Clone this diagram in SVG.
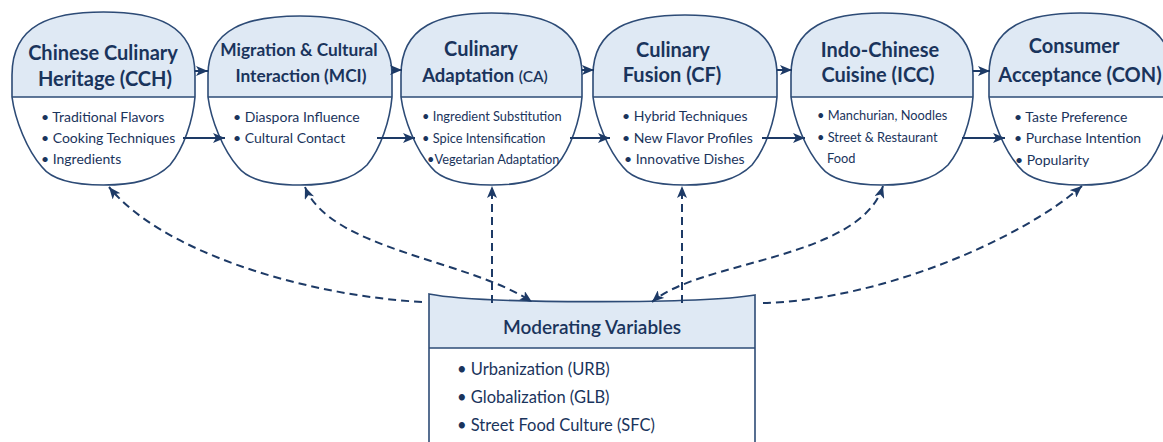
<svg xmlns="http://www.w3.org/2000/svg" width="1163" height="442" viewBox="0 0 1163 442">
  <style>
    .shape { fill: #ffffff; stroke: none; }
    .head { fill: #dfe9f4; stroke: none; }
    .outline { fill: none; stroke: #2d4b76; stroke-width: 1.6; }
    .divider { stroke: #2d4b76; stroke-width: 1.4; }
    .title { font-family: Lato, "Liberation Sans", sans-serif; font-weight: 700; font-size: 20px; fill: #1a345c; text-anchor: middle; }
    .item { font-family: Lato, "Liberation Sans", sans-serif; font-weight: 400; font-size: 14px; fill: #1a345c; }
    .small { font-size: 12.8px; }
    .boxtitle { font-family: Lato, "Liberation Sans", sans-serif; font-weight: 600; font-size: 19px; fill: #1a345c; text-anchor: middle; }
    .boxitem { font-family: Lato, "Liberation Sans", sans-serif; font-weight: 400; font-size: 16.5px; fill: #1a345c; }
    .flow { fill: none; stroke: #1d3a66; stroke-width: 2; marker-end: url(#arrow); }
    .dash { fill: none; stroke: #1d3a66; stroke-width: 2; stroke-dasharray: 8 5; }
  </style>
  <defs>
    <marker id="arrow" viewBox="0 0 12 10" refX="12" refY="5" markerWidth="12" markerHeight="10" markerUnits="userSpaceOnUse" orient="auto-start-reverse">
      <path d="M0,0 L12,5 L0,10 L3,5 Z" fill="#1d3a66"/>
    </marker>
  </defs>

  <rect width="1163" height="442" fill="#ffffff"/>

  <!-- Chinese Culinary Heritage -->
  <g id="node-cch">
    <path class="shape" d="M12,97 L12,75 C12,24 52,12 103.5,12 C155,12 195,24 195,75 L195,97 C193,120 184,148 170,165 C155,180 133.5,185 103.5,185 C73.5,185 52,180 42,167 C27,150 15,120 12,97 Z"/>
    <path class="head" d="M12,97 L12,75 C12,24 52,12 103.5,12 C155,12 195,24 195,75 L195,97 Z"/>
    <path class="outline" d="M12,97 L12,75 C12,24 52,12 103.5,12 C155,12 195,24 195,75 L195,97 C193,120 184,148 170,165 C155,180 133.5,185 103.5,185 C73.5,185 52,180 42,167 C27,150 15,120 12,97 Z"/>
    <line class="divider" x1="12" y1="97" x2="195" y2="97"/>
    <text class="title" x="103" y="60">Chinese Culinary</text>
    <text class="title" x="105" y="86">Heritage (CCH)</text>
    <text class="item" x="41" y="122">• Traditional Flavors</text>
    <text class="item" x="41" y="143">• Cooking Techniques</text>
    <text class="item" x="41" y="164">• Ingredients</text>
  </g>

  <!-- Migration & Cultural Interaction -->
  <g id="node-mci">
    <path class="shape" d="M208,97 L208,75 C208,28 248,16 300,16 C352,16 392,28 392,75 L392,97 C390,120 381,148 367,165 C352,180 330,185 300,185 C270,185 248,180 238,167 C223,150 211,120 208,97 Z"/>
    <path class="head" d="M208,97 L208,75 C208,28 248,16 300,16 C352,16 392,28 392,75 L392,97 Z"/>
    <path class="outline" d="M208,97 L208,75 C208,28 248,16 300,16 C352,16 392,28 392,75 L392,97 C390,120 381,148 367,165 C352,180 330,185 300,185 C270,185 248,180 238,167 C223,150 211,120 208,97 Z"/>
    <line class="divider" x1="208" y1="97" x2="392" y2="97"/>
    <text class="title" x="299" y="56" style="font-size:17.3px">Migration &amp; Cultural</text>
    <text class="title" x="301" y="82" style="font-size:17.3px">Interaction (MCI)</text>
    <text class="item" x="233" y="122">• Diaspora Influence</text>
    <text class="item" x="233" y="143">• Cultural Contact</text>
  </g>

  <!-- Culinary Adaptation -->
  <g id="node-ca">
    <path class="shape" d="M401,97 L401,75 C401,25 441,13 491.5,13 C542,13 582,25 582,75 L582,97 C580,120 571,148 557,165 C542,180 521.5,185 491.5,185 C461.5,185 441,180 431,167 C416,150 404,120 401,97 Z"/>
    <path class="head" d="M401,97 L401,75 C401,25 441,13 491.5,13 C542,13 582,25 582,75 L582,97 Z"/>
    <path class="outline" d="M401,97 L401,75 C401,25 441,13 491.5,13 C542,13 582,25 582,75 L582,97 C580,120 571,148 557,165 C542,180 521.5,185 491.5,185 C461.5,185 441,180 431,167 C416,150 404,120 401,97 Z"/>
    <line class="divider" x1="401" y1="97" x2="582" y2="97"/>
    <text class="title" x="481" y="56">Culinary</text>
    <text class="title" x="485" y="82" style="font-size:18.5px">Adaptation <tspan style="font-size:15.5px;font-weight:600">(CA)</tspan></text>
    <text class="item small" x="422" y="121">• Ingredient Substitution</text>
    <text class="item small" x="422" y="143">• Spice Intensification</text>
    <text class="item small" x="427" y="164">•Vegetarian Adaptation</text>
  </g>

  <!-- Culinary Fusion -->
  <g id="node-cf">
    <path class="shape" d="M593,97 L593,75 C593,27 633,15 685,15 C737,15 777,27 777,75 L777,97 C775,120 766,148 752,165 C737,180 715,185 685,185 C655,185 633,180 623,167 C608,150 596,120 593,97 Z"/>
    <path class="head" d="M593,97 L593,75 C593,27 633,15 685,15 C737,15 777,27 777,75 L777,97 Z"/>
    <path class="outline" d="M593,97 L593,75 C593,27 633,15 685,15 C737,15 777,27 777,75 L777,97 C775,120 766,148 752,165 C737,180 715,185 685,185 C655,185 633,180 623,167 C608,150 596,120 593,97 Z"/>
    <line class="divider" x1="593" y1="97" x2="777" y2="97"/>
    <text class="title" x="673" y="57">Culinary</text>
    <text class="title" x="672" y="82">Fusion (CF)</text>
    <text class="item" x="622" y="121">• Hybrid Techniques</text>
    <text class="item" x="622" y="143">• New Flavor Profiles</text>
    <text class="item" x="624" y="164">• Innovative Dishes</text>
  </g>

  <!-- Indo-Chinese Cuisine -->
  <g id="node-icc">
    <path class="shape" d="M791,97 L791,75 C791,25 831,13 882,13 C933,13 973,25 973,75 L973,97 C971,120 962,148 948,165 C933,180 912,185 882,185 C852,185 831,180 821,167 C806,150 794,120 791,97 Z"/>
    <path class="head" d="M791,97 L791,75 C791,25 831,13 882,13 C933,13 973,25 973,75 L973,97 Z"/>
    <path class="outline" d="M791,97 L791,75 C791,25 831,13 882,13 C933,13 973,25 973,75 L973,97 C971,120 962,148 948,165 C933,180 912,185 882,185 C852,185 831,180 821,167 C806,150 794,120 791,97 Z"/>
    <line class="divider" x1="791" y1="97" x2="973" y2="97"/>
    <text class="title" x="880" y="57">Indo-Chinese</text>
    <text class="title" x="878" y="82">Cuisine (ICC)</text>
    <text class="item small" x="817" y="120">• Manchurian, Noodles</text>
    <text class="item small" x="817" y="142">• Street &amp; Restaurant</text>
    <text class="item small" x="827" y="163">Food</text>
  </g>

  <!-- Consumer Acceptance -->
  <g id="node-con">
    <path class="shape" d="M989,97 L989,75 C989,25 1029,13 1080.5,13 C1132,13 1172,25 1172,75 L1172,97 C1170,120 1161,148 1147,165 C1132,180 1110.5,185 1080.5,185 C1050.5,185 1029,180 1019,167 C1004,150 992,120 989,97 Z"/>
    <path class="head" d="M989,97 L989,75 C989,25 1029,13 1080.5,13 C1132,13 1172,25 1172,75 L1172,97 Z"/>
    <path class="outline" d="M989,97 L989,75 C989,25 1029,13 1080.5,13 C1132,13 1172,25 1172,75 L1172,97 C1170,120 1161,148 1147,165 C1132,180 1110.5,185 1080.5,185 C1050.5,185 1029,180 1019,167 C1004,150 992,120 989,97 Z"/>
    <line class="divider" x1="989" y1="97" x2="1172" y2="97"/>
    <text class="title" x="1074" y="53">Consumer</text>
    <text class="title" x="1080" y="82">Acceptance (CON)</text>
    <text class="item" x="1014" y="122">• Taste Preference</text>
    <text class="item" x="1014" y="143">• Purchase Intention</text>
    <text class="item" x="1015" y="165">• Popularity</text>
  </g>

  <!-- Moderating Variables -->
  <g id="node-mod">
    <path d="M429,294 C480,304 700,304 755,295 L755,450 L429,450 Z" fill="#ffffff"/>
    <path class="head" d="M429,294 C480,304 700,304 755,295 L755,348 L429,348 Z"/>
    <path class="outline" d="M429,450 L429,294 C480,304 700,304 755,295 L755,450"/>
    <line class="divider" x1="429" y1="348" x2="755" y2="348"/>
    <text class="boxtitle" x="592" y="334">Moderating Variables</text>
    <text class="boxitem" x="457" y="375">• Urbanization (URB)</text>
    <text class="boxitem" x="457" y="403">• Globalization (GLB)</text>
    <text class="boxitem" x="457" y="431">• Street Food Culture (SFC)</text>
  </g>

  <!-- connectors -->
  <g id="connectors">
    <!-- upper flow between neighbouring headers -->
    <path class="flow" d="M195,71 L208,71"/>
    <path class="flow" d="M392,70 L402,70"/>
    <path class="flow" d="M582,70 L594,70"/>
    <path class="flow" d="M777,70 L792,70"/>
    <path class="flow" d="M973,71 L990,71"/>
    <!-- lower flow between item lists -->
    <path class="flow" d="M183,138 L225,138"/>
    <path class="flow" d="M377,138 L415,138"/>
    <path class="flow" d="M570,138 L610,138"/>
    <path class="flow" d="M762,138 L805,138"/>
    <path class="flow" d="M962,138 L1005,138"/>
    <!-- moderating links -->
    <path class="dash" d="M422,302 C300,295 160,250 109,187" marker-end="url(#arrow)"/>
    <path class="dash" d="M305,187 C330,250 470,260 532,302" marker-start="url(#arrow)" marker-end="url(#arrow)"/>
    <path class="dash" d="M492,303 L492,186" marker-end="url(#arrow)"/>
    <path class="dash" d="M682,303 L682,186" marker-end="url(#arrow)"/>
    <path class="dash" d="M883,186 C860,260 700,260 652,302" marker-start="url(#arrow)" marker-end="url(#arrow)"/>
    <path class="dash" d="M763,303 C880,300 1020,240 1082,186" marker-end="url(#arrow)"/>
  </g>
</svg>
